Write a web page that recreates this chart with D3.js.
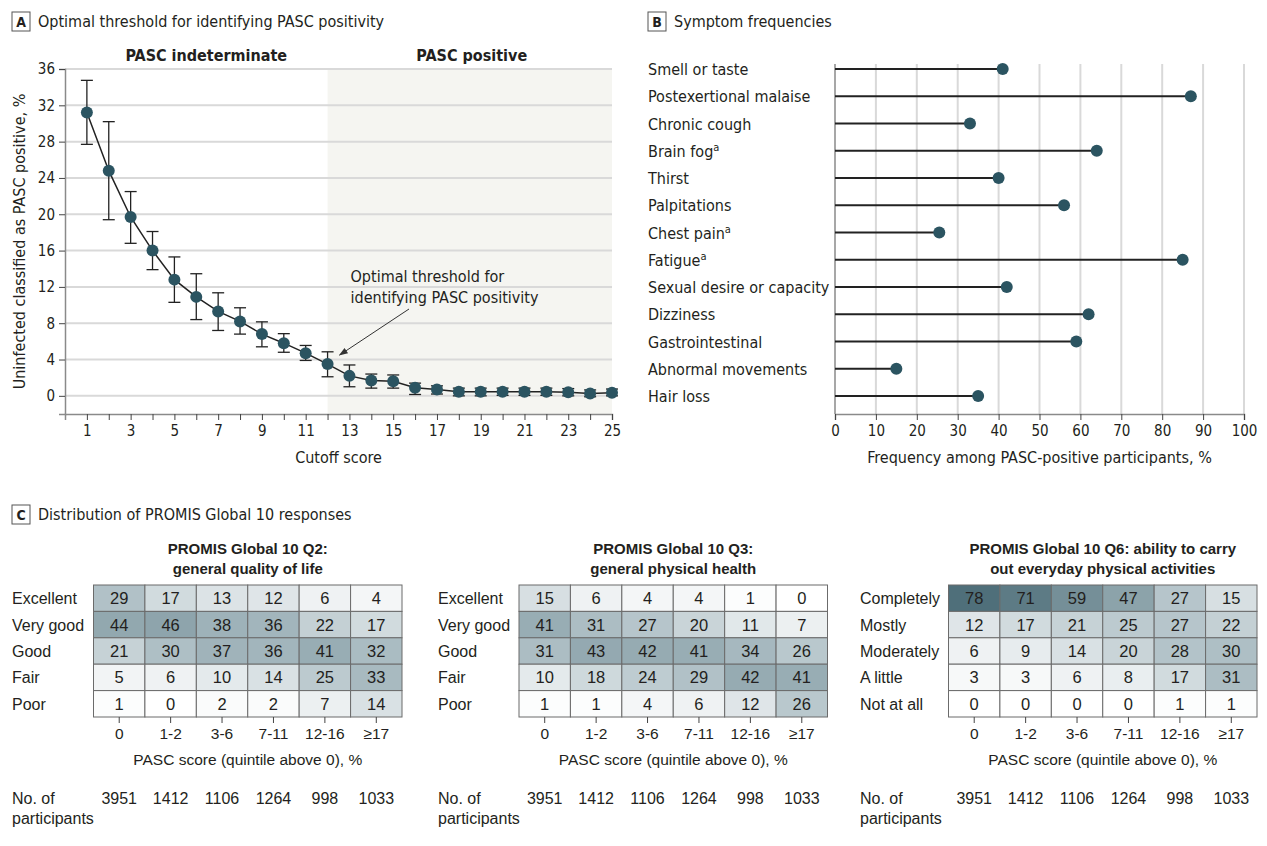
<!DOCTYPE html>
<html>
<head>
<meta charset="utf-8">
<style>
  body { margin: 0; background: #fff; }
  svg text { font-family: "Liberation Sans Narrow", "DejaVu Sans Condensed", sans-serif; fill: #231f20; }
  .heat text { font-family: "Liberation Sans", "DejaVu Sans", sans-serif; }
</style>
</head>
<body>
<div id="viz"></div>
<script src="https://cdn.jsdelivr.net/npm/d3@7"></script>
<script>

// ---- panel A data
const cutoffs = [1, 2, 3, 4, 5, 6, 7, 8, 9, 10, 11, 12, 13, 14, 15, 16, 17, 18, 19, 20, 21, 22, 23, 24, 25];
const pctPositive = [31.2, 24.8, 19.7, 16.0, 12.8, 10.9, 9.3, 8.2, 6.8, 5.8, 4.7, 3.5, 2.2, 1.7, 1.6, 0.9, 0.7, 0.45, 0.45, 0.45, 0.45, 0.45, 0.4, 0.25, 0.35];
const ciLower = [27.7, 19.4, 16.8, 13.9, 10.3, 8.4, 7.2, 6.8, 5.4, 4.8, 3.9, 2.1, 1.0, 0.85, 0.85, 0.15, 0.2, 0.0, 0.0, 0.05, 0.05, 0.05, 0.0, -0.1, 0.0];
const ciUpper = [34.75, 30.2, 22.5, 18.1, 15.3, 13.45, 11.35, 9.7, 8.15, 6.85, 5.55, 4.85, 3.4, 2.4, 2.3, 1.4, 1.1, 0.85, 0.85, 0.85, 0.85, 0.85, 0.8, 0.65, 0.75];
const optimalCutoff = 12;

// ---- panel B data
const symptoms = ["Smell or taste", "Postexertional malaise", "Chronic cough", "Brain fog", "Thirst", "Palpitations", "Chest pain", "Fatigue", "Sexual desire or capacity", "Dizziness", "Gastrointestinal", "Abnormal movements", "Hair loss"];
const symptomNote = [false, false, false, true, false, false, true, true, false, false, false, false, false];
const symptomFreq = [41, 87, 33, 64, 40, 56, 25.5, 85, 42, 62, 59, 15, 35];

// ---- panel C data
const scoreBins = ["0", "1-2", "3-6", "7-11", "12-16", "≥17"];
const participants = [3951, 1412, 1106, 1264, 998, 1033];

const q2Title = ["PROMIS Global 10 Q2:", "general quality of life"];
const q2Rows = ["Excellent", "Very good", "Good", "Fair", "Poor"];
const q2Values = [
  [29, 17, 13, 12, 6, 4],
  [44, 46, 38, 36, 22, 17],
  [21, 30, 37, 36, 41, 32],
  [5, 6, 10, 14, 25, 33],
  [1, 0, 2, 2, 7, 14]
];

const q3Title = ["PROMIS Global 10 Q3:", "general physical health"];
const q3Rows = ["Excellent", "Very good", "Good", "Fair", "Poor"];
const q3Values = [
  [15, 6, 4, 4, 1, 0],
  [41, 31, 27, 20, 11, 7],
  [31, 43, 42, 41, 34, 26],
  [10, 18, 24, 29, 42, 41],
  [1, 1, 4, 6, 12, 26]
];

const q6Title = ["PROMIS Global 10 Q6: ability to carry", "out everyday physical activities"];
const q6Rows = ["Completely", "Mostly", "Moderately", "A little", "Not at all"];
const q6Values = [
  [78, 71, 59, 47, 27, 15],
  [12, 17, 21, 25, 27, 22],
  [6, 9, 14, 20, 28, 30],
  [3, 3, 6, 8, 17, 31],
  [0, 0, 0, 0, 1, 1]
];

const dotColor = "#2b5461",
      gridColor = "#d9d9d9",
      axisColor = "#8a8a8a";

const svg = d3.select("#viz").append("svg")
    .attr("width", 1267)
    .attr("height", 846);

svg.append("rect").attr("width", 1267).attr("height", 846).attr("fill", "#fff");

function panelLabel(x, y, letter, title){
  svg.append("rect")
      .attr("x", x).attr("y", y).attr("width", 18).attr("height", 19)
      .attr("fill", "none").attr("stroke", "#555").attr("stroke-width", 1);
  svg.append("text")
      .attr("x", x + 9).attr("y", y + 15)
      .attr("text-anchor", "middle")
      .attr("font-weight", "bold").attr("font-size", 14)
      .text(letter);
  svg.append("text")
      .attr("x", x + 26).attr("y", y + 15)
      .attr("font-size", 16)
      .text(title);
}

// ================= PANEL A =================
panelLabel(12, 12, "A", "Optimal threshold for identifying PASC positivity");

const xA = d3.scaleLinear().domain([0, 25]).range([65, 612]);
const yA = d3.scaleLinear().domain([-2, 36]).range([414, 69]);

const gA = svg.append("g");

// shaded positive region
gA.append("rect")
    .attr("x", xA(optimalCutoff)).attr("y", yA(36))
    .attr("width", xA(25) - xA(optimalCutoff))
    .attr("height", yA(-2) - yA(36))
    .attr("fill", "#f5f5f1");

const yTicksA = [0, 4, 8, 12, 16, 20, 24, 28, 32, 36];

gA.selectAll(".grid")
    .data(yTicksA)
  .enter().append("line")
    .attr("x1", xA(0)).attr("x2", xA(25))
    .attr("y1", d => yA(d)).attr("y2", d => yA(d))
    .attr("stroke", gridColor).attr("stroke-width", 2);

const yAxisA = gA.append("g")
    .attr("transform", `translate(${xA(0)},0)`)
    .call(d3.axisLeft(yA).tickValues(yTicksA).tickSize(6).tickPadding(4));

const xAxisA = gA.append("g")
    .attr("transform", `translate(0,${yA(-2)})`)
    .call(d3.axisBottom(xA).tickValues(cutoffs).tickSize(6).tickPadding(5)
      .tickFormat(d => d % 2 === 1 ? d : ""));

[yAxisA, xAxisA].forEach(a => {
  a.select(".domain").attr("stroke", axisColor).attr("stroke-width", 1.5);
  a.selectAll(".tick line").attr("stroke", "#444");
  a.selectAll("text").attr("font-size", 15).attr("fill", "#231f20")
    .attr("font-family", '"Liberation Sans Narrow", "DejaVu Sans Condensed", sans-serif');
});

gA.append("text")
    .attr("transform", `translate(25,${yA(17)}) rotate(-90)`)
    .attr("text-anchor", "middle").attr("font-size", 16)
    .text("Uninfected classified as PASC positive, %");

gA.append("text")
    .attr("x", xA(12.5)).attr("y", 463)
    .attr("text-anchor", "middle").attr("font-size", 16)
    .text("Cutoff score");

gA.append("text")
    .attr("x", (xA(0) + xA(optimalCutoff)) / 2 + 10).attr("y", 61)
    .attr("text-anchor", "middle").attr("font-size", 16).attr("font-weight", "bold")
    .text("PASC indeterminate");
gA.append("text")
    .attr("x", (xA(optimalCutoff) + xA(25)) / 2 + 2).attr("y", 61)
    .attr("text-anchor", "middle").attr("font-size", 16).attr("font-weight", "bold")
    .text("PASC positive");

const ptsA = cutoffs.map((c, i) => ({c: c, v: pctPositive[i], lo: ciLower[i], hi: ciUpper[i]}));

// connecting line
gA.append("path")
    .datum(ptsA)
    .attr("fill", "none").attr("stroke", "#222").attr("stroke-width", 1.5)
    .attr("d", d3.line().x(d => xA(d.c)).y(d => yA(d.v)));

// error bars
const eb = gA.selectAll(".eb")
    .data(ptsA)
  .enter().append("g")
    .attr("stroke", "#222").attr("stroke-width", 1.3);
eb.append("line")
    .attr("x1", d => xA(d.c)).attr("x2", d => xA(d.c))
    .attr("y1", d => yA(d.lo)).attr("y2", d => yA(d.hi));
eb.append("line")
    .attr("x1", d => xA(d.c) - 6).attr("x2", d => xA(d.c) + 6)
    .attr("y1", d => yA(d.lo)).attr("y2", d => yA(d.lo));
eb.append("line")
    .attr("x1", d => xA(d.c) - 6).attr("x2", d => xA(d.c) + 6)
    .attr("y1", d => yA(d.hi)).attr("y2", d => yA(d.hi));

gA.selectAll(".dot")
    .data(ptsA)
  .enter().append("circle")
    .attr("cx", d => xA(d.c)).attr("cy", d => yA(d.v))
    .attr("r", 6).attr("fill", dotColor);

// annotation
svg.append("defs").append("marker")
    .attr("id", "arrow").attr("viewBox", "0 0 10 10")
    .attr("refX", 9).attr("refY", 5)
    .attr("markerWidth", 9).attr("markerHeight", 9)
    .attr("orient", "auto")
  .append("path").attr("d", "M0,1.5 L10,5 L0,8.5 Z").attr("fill", "#333");

const annoTextX = xA(13.05);
gA.append("text")
    .attr("x", annoTextX).attr("y", 282)
    .attr("font-size", 16)
    .text("Optimal threshold for");
gA.append("text")
    .attr("x", annoTextX).attr("y", 303)
    .attr("font-size", 16)
    .text("identifying PASC positivity");
gA.append("line")
    .attr("x1", 409).attr("y1", 309)
    .attr("x2", xA(optimalCutoff) + 12).attr("y2", yA(pctPositive[11]) - 9)
    .attr("stroke", "#333").attr("stroke-width", 1)
    .attr("marker-end", "url(#arrow)");

// ================= PANEL B =================
panelLabel(648, 12, "B", "Symptom frequencies");

const xB = d3.scaleLinear().domain([0, 100]).range([835, 1244]);
const yB = d3.scalePoint().domain(symptoms).range([69, 396]);

const gB = svg.append("g");
const xTicksB = [10, 20, 30, 40, 50, 60, 70, 80, 90, 100];

gB.selectAll(".vgrid")
    .data(xTicksB)
  .enter().append("line")
    .attr("x1", d => xB(d)).attr("x2", d => xB(d))
    .attr("y1", 64).attr("y2", 414)
    .attr("stroke", gridColor).attr("stroke-width", 2);

gB.append("line")
    .attr("x1", xB(0)).attr("x2", xB(0))
    .attr("y1", 64).attr("y2", 414)
    .attr("stroke", axisColor).attr("stroke-width", 1.5);

const xAxisB = gB.append("g")
    .attr("transform", "translate(0,414)")
    .call(d3.axisBottom(xB).tickValues([0].concat(xTicksB)).tickSize(6).tickPadding(5));
xAxisB.select(".domain").attr("stroke", axisColor).attr("stroke-width", 1.5);
xAxisB.selectAll(".tick line").attr("stroke", "#444");
xAxisB.selectAll("text").attr("font-size", 15).attr("fill", "#231f20")
    .attr("font-family", '"Liberation Sans Narrow", "DejaVu Sans Condensed", sans-serif');

gB.append("text")
    .attr("x", xB(50)).attr("y", 463)
    .attr("text-anchor", "middle").attr("font-size", 16)
    .text("Frequency among PASC-positive participants, %");

const ptsB = symptoms.map((s, i) => ({s: s, v: symptomFreq[i], note: symptomNote[i]}));

const lbl = gB.selectAll(".lbl")
    .data(ptsB)
  .enter().append("text")
    .attr("x", 648).attr("y", d => yB(d.s) + 6)
    .attr("font-size", 16)
    .text(d => d.s);
lbl.filter(d => d.note).append("tspan")
    .attr("dy", -6).attr("font-size", 11)
    .text("a");

gB.selectAll(".stem")
    .data(ptsB)
  .enter().append("line")
    .attr("x1", xB(0)).attr("x2", d => xB(d.v))
    .attr("y1", d => yB(d.s)).attr("y2", d => yB(d.s))
    .attr("stroke", "#222").attr("stroke-width", 2);

gB.selectAll(".dotB")
    .data(ptsB)
  .enter().append("circle")
    .attr("cx", d => xB(d.v)).attr("cy", d => yB(d.s))
    .attr("r", 6).attr("fill", dotColor);

// ================= PANEL C =================
panelLabel(12, 505, "C", "Distribution of PROMIS Global 10 responses");

const color = d3.scaleLinear()
    .domain([0, 30, 80])
    .range(["#ffffff", "#aebfc5", "#4b6c77"]);

function heatmap(left, labelX, title, rows, values){
  const g = svg.append("g").attr("class", "heat");
  const x = d3.scaleBand().domain(scoreBins).range([left, left + 308.5]);
  const y = d3.scaleBand().domain(rows).range([585, 717]);
  const cx = left + 308.5 / 2;

  g.selectAll(".title")
      .data(title)
    .enter().append("text")
      .attr("x", cx).attr("y", (d, i) => 554 + i * 20)
      .attr("text-anchor", "middle").attr("font-size", 15).attr("font-weight", "bold")
      .attr("font-family", '"Liberation Sans Narrow", "DejaVu Sans Condensed", sans-serif')
      .text(d => d);

  const cells = [];
  rows.forEach((r, i) => scoreBins.forEach((b, j) => cells.push({r: r, b: b, v: values[i][j]})));

  g.selectAll(".cell")
      .data(cells)
    .enter().append("rect")
      .attr("x", d => x(d.b)).attr("y", d => y(d.r))
      .attr("width", x.bandwidth()).attr("height", y.bandwidth())
      .attr("fill", d => color(d.v))
      .attr("stroke", "#6b6b6b").attr("stroke-width", 1);

  g.selectAll(".val")
      .data(cells)
    .enter().append("text")
      .attr("x", d => x(d.b) + x.bandwidth() / 2)
      .attr("y", d => y(d.r) + y.bandwidth() / 2 + 6)
      .attr("text-anchor", "middle").attr("font-size", 16.5)
      .attr("fill", "#333")
      .text(d => d.v);

  g.selectAll(".row")
      .data(rows)
    .enter().append("text")
      .attr("x", labelX).attr("y", d => y(d) + y.bandwidth() / 2 + 6)
      .attr("font-size", 16)
      .text(d => d);

  const ax = g.append("g")
      .attr("transform", "translate(0,717)")
      .call(d3.axisBottom(x).tickSize(6).tickPadding(5));
  ax.select(".domain").remove();
  ax.selectAll(".tick line").attr("stroke", "#444");
  ax.selectAll("text").attr("font-size", 15.5).attr("fill", "#231f20")
    .attr("font-family", '"Liberation Sans", "DejaVu Sans", sans-serif');

  g.append("text")
      .attr("x", cx).attr("y", 765)
      .attr("text-anchor", "middle").attr("font-size", 15.5)
      .text("PASC score (quintile above 0), %");

  g.append("text").attr("x", labelX).attr("y", 804).attr("font-size", 16).text("No. of");
  g.append("text").attr("x", labelX).attr("y", 824).attr("font-size", 16).text("participants");

  g.selectAll(".n")
      .data(participants)
    .enter().append("text")
      .attr("x", (d, i) => x(scoreBins[i]) + x.bandwidth() / 2)
      .attr("y", 804)
      .attr("text-anchor", "middle").attr("font-size", 16)
      .text(d => d);
}

heatmap(93.5, 12, q2Title, q2Rows, q2Values);
heatmap(519, 438, q3Title, q3Rows, q3Values);
heatmap(948.5, 860, q6Title, q6Rows, q6Values);

</script>
</body>
</html>
